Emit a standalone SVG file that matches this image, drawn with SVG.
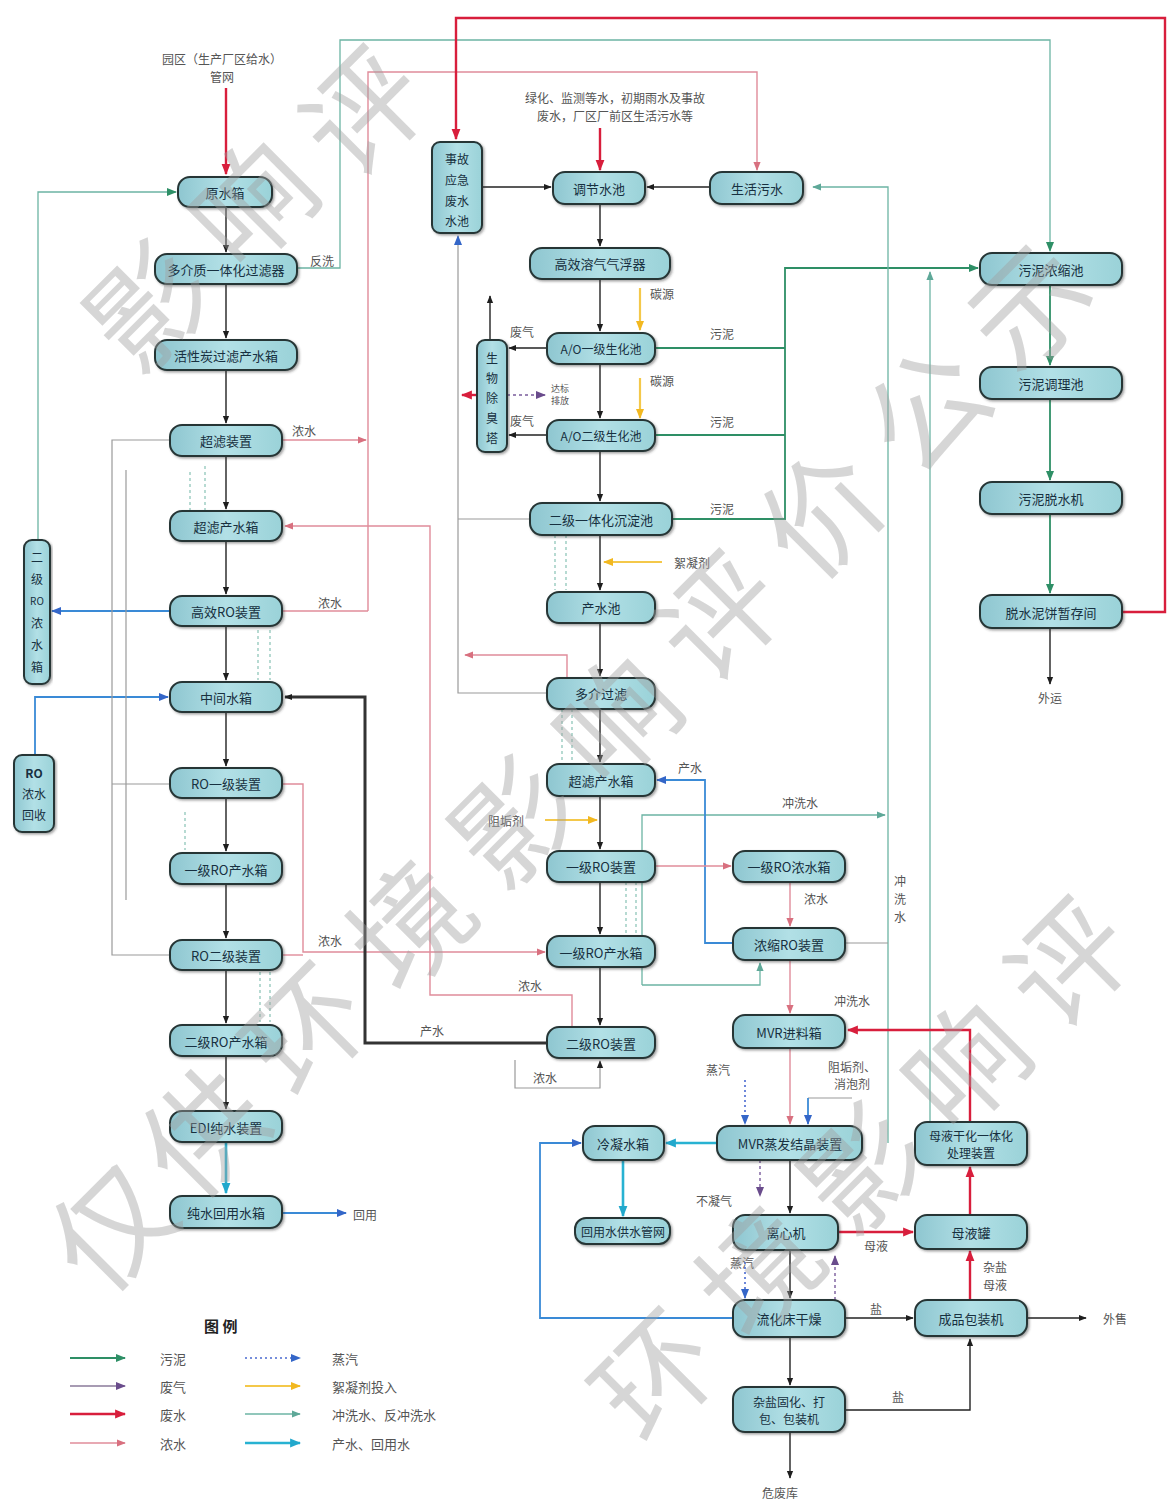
<svg xmlns="http://www.w3.org/2000/svg" width="1167" height="1500" viewBox="0 0 1167 1500">
<defs>
<linearGradient id="ng" x1="0" y1="0" x2="1" y2="0">
<stop offset="0" stop-color="#8ec6d0"/><stop offset="0.5" stop-color="#b2e0e6"/><stop offset="1" stop-color="#9ad2d8"/>
</linearGradient>
<filter id="sh" x="-10%" y="-20%" width="120%" height="150%"><feDropShadow dx="1.5" dy="1.5" stdDeviation="1" flood-color="#333" flood-opacity="0.45"/></filter>
<marker id="ak" viewBox="0 0 10 10" refX="9" refY="5" markerWidth="8" markerHeight="8" markerUnits="userSpaceOnUse" orient="auto"><path d="M0,1 L10,5 L0,9 z" fill="#1e1e1e"/></marker>
<marker id="ag" viewBox="0 0 10 10" refX="9" refY="5" markerWidth="10" markerHeight="10" markerUnits="userSpaceOnUse" orient="auto"><path d="M0,1 L10,5 L0,9 z" fill="#2e8f66"/></marker>
<marker id="ar" viewBox="0 0 10 10" refX="9" refY="5" markerWidth="11" markerHeight="11" markerUnits="userSpaceOnUse" orient="auto"><path d="M0,1 L10,5 L0,9 z" fill="#d81e3c"/></marker>
<marker id="ap" viewBox="0 0 10 10" refX="9" refY="5" markerWidth="9" markerHeight="9" markerUnits="userSpaceOnUse" orient="auto"><path d="M0,1 L10,5 L0,9 z" fill="#d8707f"/></marker>
<marker id="au" viewBox="0 0 10 10" refX="9" refY="5" markerWidth="10" markerHeight="10" markerUnits="userSpaceOnUse" orient="auto"><path d="M0,1 L10,5 L0,9 z" fill="#6a4c8c"/></marker>
<marker id="ab" viewBox="0 0 10 10" refX="9" refY="5" markerWidth="10" markerHeight="10" markerUnits="userSpaceOnUse" orient="auto"><path d="M0,1 L10,5 L0,9 z" fill="#3466c8"/></marker>
<marker id="ay" viewBox="0 0 10 10" refX="9" refY="5" markerWidth="10" markerHeight="10" markerUnits="userSpaceOnUse" orient="auto"><path d="M0,1 L10,5 L0,9 z" fill="#f2b820"/></marker>
<marker id="at" viewBox="0 0 10 10" refX="9" refY="5" markerWidth="9" markerHeight="9" markerUnits="userSpaceOnUse" orient="auto"><path d="M0,1 L10,5 L0,9 z" fill="#5ea898"/></marker>
<marker id="ac" viewBox="0 0 10 10" refX="9" refY="5" markerWidth="11" markerHeight="11" markerUnits="userSpaceOnUse" orient="auto"><path d="M0,1 L10,5 L0,9 z" fill="#22a8cc"/></marker>
<style>
.n rect{fill:url(#ng);stroke:#263636;stroke-width:2;filter:url(#sh)}
.t{font-family:"Noto Sans CJK SC","Noto Sans",sans-serif;font-size:13px;fill:#173040;text-anchor:middle;dominant-baseline:central}
.s{font-size:12px}
.lb{font-family:"Noto Sans CJK SC","Noto Sans",sans-serif;font-size:12px;fill:#555;text-anchor:middle;dominant-baseline:central}
.lg{font-family:"Noto Sans CJK SC","Noto Sans",sans-serif;font-size:13px;fill:#555;dominant-baseline:central}
.k{stroke:#222;stroke-width:1.4;fill:none}
.kk{stroke:#333;stroke-width:3;fill:none}
.g{stroke:#2e8f66;stroke-width:1.8;fill:none}
.r{stroke:#d81e3c;stroke-width:2.4;fill:none}
.p{stroke:#e08c9a;stroke-width:1.4;fill:none}
.u{stroke:#7a5c9c;stroke-width:1.4;fill:none;stroke-dasharray:3 3}
.b{stroke:#3a8ad6;stroke-width:1.8;fill:none}
.bd{stroke:#4a6ad0;stroke-width:1.6;fill:none;stroke-dasharray:2 3}
.y{stroke:#f4c84a;stroke-width:2.2;fill:none}
.tl{stroke:#6cb4a4;stroke-width:1.3;fill:none}
.td{stroke:#7cbcae;stroke-width:1.1;fill:none;stroke-dasharray:3 3}
.c{stroke:#28b2d2;stroke-width:2.6;fill:none}
.gr{stroke:#9a9a9a;stroke-width:1.2;fill:none}
.wm{font-family:"Noto Sans CJK SC","Noto Sans",sans-serif;font-size:118px;fill:#a0a0a0;opacity:0.42;text-anchor:middle;dominant-baseline:central}
</style>
</defs>
<rect width="1167" height="1500" fill="#ffffff"/>

<g id="top-labels">
<text class="lb" x="222" y="58">园区（生产厂区给水）</text>
<text class="lb" x="222" y="76">管网</text>
<text class="lb" x="615" y="97">绿化、监测等水，初期雨水及事故</text>
<text class="lb" x="615" y="115">废水，厂区厂前区生活污水等</text>
</g>

<g id="connectors">
<path class="r" d="M226,88 V174" marker-end="url(#ar)"/>
<path class="k" d="M226,207 V252" marker-end="url(#ak)"/>
<path class="k" d="M226,284 V338" marker-end="url(#ak)"/>
<path class="k" d="M226,370 V423" marker-end="url(#ak)"/>
<path class="k" d="M226,456 V509" marker-end="url(#ak)"/>
<path class="k" d="M226,541 V594" marker-end="url(#ak)"/>
<path class="k" d="M226,626 V680" marker-end="url(#ak)"/>
<path class="k" d="M226,712 V766" marker-end="url(#ak)"/>
<path class="k" d="M226,798 V851" marker-end="url(#ak)"/>
<path class="k" d="M226,884 V938" marker-end="url(#ak)"/>
<path class="k" d="M226,970 V1023" marker-end="url(#ak)"/>
<path class="k" d="M226,1056 V1109" marker-end="url(#ak)"/>
<path class="c" d="M226,1142 V1193" marker-end="url(#ac)"/>
<path class="b" d="M282,1213 H346" marker-end="url(#ab)"/>
<path class="tl" d="M38,540 V192 H176" marker-end="url(#ag)"/>
<path class="b" d="M170,611 H52" marker-end="url(#ab)"/>
<path class="b" d="M35,755 V697 H168" marker-end="url(#ab)"/>
<path class="gr" d="M170,440 H112 V955 H170 M112,784 H170"/>
<path class="gr" d="M126,470 V900"/>
<path class="td" d="M190,511 V470 M205,511 V466"/>
<path class="td" d="M258,630 V680 M270,630 V680"/>
<path class="td" d="M185,812 V850"/>
<path class="td" d="M260,972 V1022 M270,972 V1022"/>
<path class="tl" d="M297,268 H340 V40 H1050 V251" marker-end="url(#ag)"/>
<path class="p" d="M368,611 V72 H757 V170" marker-end="url(#ap)"/>
<path class="p" d="M282,440 H366" marker-end="url(#ap)"/>
<path class="p" d="M282,611 H368"/>
<path class="p" d="M572,1027 V995 H430 V526 H285" marker-end="url(#ap)"/>
<path class="p" d="M282,784 H303 V952 H545" marker-end="url(#ap)"/>
<path class="p" d="M282,955 H303"/>
<path class="p" d="M567,678 V655 H465" marker-end="url(#ap)"/>
<path class="kk" d="M547,1043 H365 V697 H285" marker-end="url(#ak)"/>
<path class="r" d="M1122,612 H1165 V18 H456 V139" marker-end="url(#ar)"/>
<path class="r" d="M600,128 V170" marker-end="url(#ar)"/>
<path class="k" d="M482,187 H551" marker-end="url(#ak)"/>
<path class="k" d="M710,187 H647" marker-end="url(#ak)"/>
<path class="k" d="M600,204 V246" marker-end="url(#ak)"/>
<path class="k" d="M600,279 V331" marker-end="url(#ak)"/>
<path class="k" d="M600,364 V418" marker-end="url(#ak)"/>
<path class="k" d="M600,451 V501" marker-end="url(#ak)"/>
<path class="k" d="M600,535 V590" marker-end="url(#ak)"/>
<path class="k" d="M600,623 V676" marker-end="url(#ak)"/>
<path class="k" d="M600,709 V762" marker-end="url(#ak)"/>
<path class="k" d="M600,796 V849" marker-end="url(#ak)"/>
<path class="k" d="M600,882 V934" marker-end="url(#ak)"/>
<path class="k" d="M600,967 V1025" marker-end="url(#ak)"/>
<path class="gr" d="M515,1060 V1088 H600 V1061" marker-end="url(#ak)"/>
<path class="td" d="M555,535 V590 M566,535 V590"/>
<path class="td" d="M562,709 V762 M572,709 V762"/>
<path class="td" d="M626,882 V934 M636,882 V934"/>
<path class="gr" d="M547,693 H458 V236" marker-end="url(#ab)"/>
<path class="gr" d="M530,519 H458"/>
<path class="k" d="M547,348 H509" marker-end="url(#ak)"/>
<path class="k" d="M547,435 H509" marker-end="url(#ak)"/>
<path class="k" d="M490,340 V296" marker-end="url(#ak)"/>
<path class="r" d="M477,395 H462" marker-end="url(#ar)"/>
<path class="u" d="M507,395 H545" marker-end="url(#au)"/>
<path class="y" d="M640,288 V330" marker-end="url(#ay)"/>
<path class="y" d="M640,378 V418" marker-end="url(#ay)"/>
<path class="y" d="M662,562 H604" marker-end="url(#ay)"/>
<path class="y" d="M545,820 H597" marker-end="url(#ay)"/>
<path class="g" d="M655,348 H785 M655,435 H785 M672,519 H785 V268 H978" marker-end="url(#ag)"/>
<path class="g" d="M1050,285 V365" marker-end="url(#ag)"/>
<path class="g" d="M1050,399 V480" marker-end="url(#ag)"/>
<path class="g" d="M1050,514 V593" marker-end="url(#ag)"/>
<path class="k" d="M1050,628 V684" marker-end="url(#ak)"/>
<path class="tl" d="M888,1143 V187 H813" marker-end="url(#at)"/>
<path class="tl" d="M930,1122 V272" marker-end="url(#at)"/>
<path class="tl" d="M642,985 V815 H885" marker-end="url(#at)"/>
<path class="tl" d="M642,985 H760 V963" marker-end="url(#at)"/>
<path class="gr" d="M845,943 H888"/>
<path class="b" d="M733,943 H705 V780 H657" marker-end="url(#ab)"/>
<path class="p" d="M655,866 H731" marker-end="url(#ap)"/>
<path class="p" d="M790,882 V926" marker-end="url(#ap)"/>
<path class="p" d="M790,960 V1013" marker-end="url(#ap)"/>
<path class="p" d="M790,1048 V1124" marker-end="url(#ap)"/>
<path class="r" d="M970,1122 V1030 H848" marker-end="url(#ar)"/>
<path class="bd" d="M745,1080 V1124" marker-end="url(#ab)"/>
<path class="gr" d="M852,1098 H808"/>
<path class="b" d="M808,1098 V1124" marker-end="url(#ab)"/>
<path class="c" d="M717,1143 H666" marker-end="url(#ac)"/>
<path class="c" d="M623,1160 V1216" marker-end="url(#ac)"/>
<path class="k" d="M790,1160 V1213" marker-end="url(#ak)"/>
<path class="u" d="M760,1160 V1196" marker-end="url(#au)"/>
<path class="r" d="M838,1232 H913" marker-end="url(#ar)"/>
<path class="r" d="M970,1215 V1167" marker-end="url(#ar)"/>
<path class="r" d="M970,1300 V1251" marker-end="url(#ar)"/>
<path class="k" d="M790,1250 V1298" marker-end="url(#ak)"/>
<path class="bd" d="M745,1262 V1298" marker-end="url(#ab)"/>
<path class="u" d="M835,1300 V1256" marker-end="url(#au)"/>
<path class="k" d="M845,1318 H913" marker-end="url(#ak)"/>
<path class="k" d="M1027,1318 H1086" marker-end="url(#ak)"/>
<path class="b" d="M733,1318 H540 V1143 H581" marker-end="url(#ab)"/>
<path class="k" d="M790,1337 V1385" marker-end="url(#ak)"/>
<path class="k" d="M790,1432 V1478" marker-end="url(#ak)"/>
<path class="k" d="M845,1410 H970 V1339" marker-end="url(#ak)"/>
</g>

<g id="connector-labels">
<text class="lb" x="322" y="260">反洗</text>
<text class="lb" x="304" y="430">浓水</text>
<text class="lb" x="330" y="602">浓水</text>
<text class="lb" x="330" y="940">浓水</text>
<text class="lb" x="365" y="1214">回用</text>
<text class="lb" x="432" y="1030">产水</text>
<text class="lb" x="530" y="985">浓水</text>
<text class="lb" x="545" y="1077">浓水</text>
<text class="lb" x="522" y="331">废气</text>
<text class="lb" x="522" y="420">废气</text>
<text class="lb" x="560" y="388" style="font-size:9px">达标</text>
<text class="lb" x="560" y="400" style="font-size:9px">排放</text>
<text class="lb" x="662" y="293">碳源</text>
<text class="lb" x="662" y="380">碳源</text>
<text class="lb" x="692" y="562">絮凝剂</text>
<text class="lb" x="506" y="820">阻垢剂</text>
<text class="lb" x="722" y="333">污泥</text>
<text class="lb" x="722" y="421">污泥</text>
<text class="lb" x="722" y="508">污泥</text>
<text class="lb" x="690" y="767">产水</text>
<text class="lb" x="800" y="802">冲洗水</text>
<text class="lb" x="900" y="880">冲</text>
<text class="lb" x="900" y="898">洗</text>
<text class="lb" x="900" y="916">水</text>
<text class="lb" x="816" y="898">浓水</text>
<text class="lb" x="852" y="1000">冲洗水</text>
<text class="lb" x="718" y="1069">蒸汽</text>
<text class="lb" x="852" y="1066">阻垢剂、</text>
<text class="lb" x="852" y="1083">消泡剂</text>
<text class="lb" x="714" y="1200">不凝气</text>
<text class="lb" x="742" y="1262">蒸汽</text>
<text class="lb" x="876" y="1245">母液</text>
<text class="lb" x="995" y="1266">杂盐</text>
<text class="lb" x="995" y="1284">母液</text>
<text class="lb" x="876" y="1308">盐</text>
<text class="lb" x="898" y="1396">盐</text>
<text class="lb" x="1115" y="1318">外售</text>
<text class="lb" x="780" y="1492">危废库</text>
<text class="lb" x="1050" y="697">外运</text>
</g>

<g id="L1" class="n"><rect x="178" y="177" width="94" height="30" rx="12"/><text class="t" x="225" y="192">原水箱</text></g>
<g id="L2" class="n"><rect x="155" y="254" width="142" height="30" rx="12"/><text class="t" x="226" y="269">多介质一体化过滤器</text></g>
<g id="L3" class="n"><rect x="155" y="340" width="142" height="30" rx="12"/><text class="t" x="226" y="355">活性炭过滤产水箱</text></g>
<g id="L4" class="n"><rect x="170" y="425" width="112" height="31" rx="12"/><text class="t" x="226" y="440">超滤装置</text></g>
<g id="L5" class="n"><rect x="170" y="511" width="112" height="30" rx="12"/><text class="t" x="226" y="526">超滤产水箱</text></g>
<g id="L6" class="n"><rect x="170" y="596" width="112" height="30" rx="12"/><text class="t" x="226" y="611">高效RO装置</text></g>
<g id="L7" class="n"><rect x="170" y="682" width="112" height="30" rx="12"/><text class="t" x="226" y="697">中间水箱</text></g>
<g id="L8" class="n"><rect x="170" y="768" width="112" height="30" rx="12"/><text class="t" x="226" y="783">RO一级装置</text></g>
<g id="L9" class="n"><rect x="170" y="853" width="112" height="31" rx="12"/><text class="t" x="226" y="869">一级RO产水箱</text></g>
<g id="L10" class="n"><rect x="170" y="940" width="112" height="30" rx="12"/><text class="t" x="226" y="955">RO二级装置</text></g>
<g id="L11" class="n"><rect x="170" y="1025" width="112" height="31" rx="12"/><text class="t" x="226" y="1041">二级RO产水箱</text></g>
<g id="L12" class="n"><rect x="170" y="1111" width="112" height="31" rx="12"/><text class="t" x="226" y="1127">EDI纯水装置</text></g>
<g id="L13" class="n"><rect x="170" y="1196" width="112" height="32" rx="12"/><text class="t" x="226" y="1212">纯水回用水箱</text></g>
<g id="V1" class="n"><rect x="24" y="540" width="26" height="144" rx="8"/>
<text class="t s" x="37" y="556">二</text><text class="t s" x="37" y="578">级</text><text class="t s" x="37" y="600" style="font-size:10px">RO</text><text class="t s" x="37" y="622">浓</text><text class="t s" x="37" y="644">水</text><text class="t s" x="37" y="666">箱</text></g>
<g id="V2" class="n"><rect x="14" y="755" width="40" height="77" rx="8"/>
<text class="t s" x="34" y="772" style="font-weight:bold">RO</text><text class="t s" x="34" y="793">浓水</text><text class="t s" x="34" y="814">回收</text></g>
<g id="VA" class="n"><rect x="432" y="142" width="50" height="91" rx="8"/>
<text class="t s" x="457" y="158">事故</text><text class="t s" x="457" y="179">应急</text><text class="t s" x="457" y="200">废水</text><text class="t s" x="457" y="220">水池</text></g>
<g id="VB" class="n"><rect x="477" y="340" width="30" height="112" rx="8"/>
<text class="t s" x="492" y="357">生</text><text class="t s" x="492" y="377">物</text><text class="t s" x="492" y="397">除</text><text class="t s" x="492" y="417">臭</text><text class="t s" x="492" y="437">塔</text></g>
<g id="M1" class="n"><rect x="553" y="172" width="92" height="32" rx="12"/><text class="t" x="599" y="188">调节水池</text></g>
<g id="M0" class="n"><rect x="710" y="172" width="93" height="32" rx="12"/><text class="t" x="757" y="188">生活污水</text></g>
<g id="M2" class="n"><rect x="530" y="248" width="140" height="31" rx="12"/><text class="t" x="600" y="263">高效溶气气浮器</text></g>
<g id="M3" class="n"><rect x="547" y="333" width="108" height="31" rx="12"/><text class="t s" x="601" y="348">A/O一级生化池</text></g>
<g id="M4" class="n"><rect x="547" y="420" width="108" height="31" rx="12"/><text class="t s" x="601" y="435">A/O二级生化池</text></g>
<g id="M5" class="n"><rect x="530" y="503" width="142" height="32" rx="12"/><text class="t" x="601" y="519">二级一体化沉淀池</text></g>
<g id="M6" class="n"><rect x="547" y="592" width="108" height="31" rx="12"/><text class="t" x="601" y="607">产水池</text></g>
<g id="M7" class="n"><rect x="547" y="678" width="108" height="31" rx="12"/><text class="t" x="601" y="693">多介过滤</text></g>
<g id="M8" class="n"><rect x="547" y="764" width="108" height="32" rx="12"/><text class="t" x="601" y="780">超滤产水箱</text></g>
<g id="M9" class="n"><rect x="547" y="851" width="108" height="31" rx="12"/><text class="t" x="601" y="866">一级RO装置</text></g>
<g id="M10" class="n"><rect x="733" y="851" width="112" height="31" rx="12"/><text class="t" x="789" y="866">一级RO浓水箱</text></g>
<g id="M11" class="n"><rect x="547" y="936" width="108" height="31" rx="12"/><text class="t" x="601" y="952">一级RO产水箱</text></g>
<g id="M12" class="n"><rect x="733" y="928" width="112" height="32" rx="12"/><text class="t" x="789" y="944">浓缩RO装置</text></g>
<g id="M13" class="n"><rect x="547" y="1027" width="108" height="31" rx="12"/><text class="t" x="601" y="1043">二级RO装置</text></g>
<g id="M14" class="n"><rect x="733" y="1015" width="112" height="33" rx="12"/><text class="t" x="789" y="1032">MVR进料箱</text></g>
<g id="M15" class="n"><rect x="717" y="1126" width="145" height="34" rx="12"/><text class="t" x="790" y="1143">MVR蒸发结晶装置</text></g>
<g id="N1" class="n"><rect x="583" y="1126" width="81" height="34" rx="12"/><text class="t" x="623" y="1143">冷凝水箱</text></g>
<g id="N2" class="n"><rect x="575" y="1218" width="95" height="26" rx="11"/><text class="t s" x="623" y="1231">回用水供水管网</text></g>
<g id="M16" class="n"><rect x="733" y="1215" width="105" height="35" rx="12"/><text class="t" x="786" y="1232">离心机</text></g>
<g id="P1" class="n"><rect x="915" y="1122" width="112" height="43" rx="12"/><text class="t s" x="971" y="1135">母液干化一体化</text><text class="t s" x="971" y="1152">处理装置</text></g>
<g id="P2" class="n"><rect x="915" y="1215" width="112" height="34" rx="12"/><text class="t" x="971" y="1232">母液罐</text></g>
<g id="M17" class="n"><rect x="733" y="1300" width="112" height="37" rx="12"/><text class="t" x="789" y="1318">流化床干燥</text></g>
<g id="P3" class="n"><rect x="915" y="1300" width="112" height="36" rx="12"/><text class="t" x="971" y="1318">成品包装机</text></g>
<g id="M18" class="n"><rect x="733" y="1387" width="112" height="45" rx="12"/><text class="t s" x="789" y="1401">杂盐固化、打</text><text class="t s" x="789" y="1418">包、包装机</text></g>
<g id="R1" class="n"><rect x="980" y="253" width="142" height="32" rx="12"/><text class="t" x="1051" y="269">污泥浓缩池</text></g>
<g id="R2" class="n"><rect x="980" y="367" width="142" height="32" rx="12"/><text class="t" x="1051" y="383">污泥调理池</text></g>
<g id="R3" class="n"><rect x="980" y="482" width="142" height="32" rx="12"/><text class="t" x="1051" y="498">污泥脱水机</text></g>
<g id="R4" class="n"><rect x="980" y="595" width="142" height="33" rx="12"/><text class="t" x="1051" y="612">脱水泥饼暂存间</text></g>

<g id="legend">
<text class="lg" x="204" y="1325" style="font-weight:bold;font-size:15px;fill:#222">图 例</text>
<path class="g" d="M70,1358 H125" marker-end="url(#ag)"/><text class="lg" x="160" y="1358">污泥</text>
<path stroke="#8a7a9a" stroke-width="1.4" fill="none" d="M70,1386 H125" marker-end="url(#au)"/><text class="lg" x="160" y="1386">废气</text>
<path class="r" d="M70,1414 H125" marker-end="url(#ar)"/><text class="lg" x="160" y="1414">废水</text>
<path class="p" d="M70,1443 H125" marker-end="url(#ap)"/><text class="lg" x="160" y="1443">浓水</text>
<path class="bd" d="M245,1358 H300" marker-end="url(#ab)"/><text class="lg" x="332" y="1358">蒸汽</text>
<path class="y" d="M245,1386 H300" marker-end="url(#ay)"/><text class="lg" x="332" y="1386">絮凝剂投入</text>
<path class="tl" d="M245,1414 H300" marker-end="url(#at)"/><text class="lg" x="332" y="1414">冲洗水、反冲洗水</text>
<path class="c" d="M245,1443 H300" marker-end="url(#ac)"/><text class="lg" x="332" y="1443">产水、回用水</text>
</g>

<g id="watermark">
<text class="wm" x="106" y="1222" transform="rotate(-45 106 1222)">仅</text>
<text class="wm" x="198" y="1127" transform="rotate(-45 198 1127)">供</text>
<text class="wm" x="301" y="1024" transform="rotate(-45 301 1024)">环</text>
<text class="wm" x="405" y="920" transform="rotate(-45 405 920)">境</text>
<text class="wm" x="508" y="817" transform="rotate(-45 508 817)">影</text>
<text class="wm" x="611" y="714" transform="rotate(-45 611 714)">响</text>
<text class="wm" x="714" y="611" transform="rotate(-45 714 611)">评</text>
<text class="wm" x="817" y="508" transform="rotate(-45 817 508)">价</text>
<text class="wm" x="921" y="404" transform="rotate(-45 921 404)">公</text>
<text class="wm" x="1024" y="301" transform="rotate(-45 1024 301)">示</text>
<text class="wm" x="143" y="301" transform="rotate(-45 143 301)">影</text>
<text class="wm" x="247" y="198" transform="rotate(-45 247 198)">响</text>
<text class="wm" x="358" y="106" transform="rotate(-45 358 106)">评</text>
<text class="wm" x="650" y="1370" transform="rotate(-45 650 1370)">环</text>
<text class="wm" x="754" y="1266" transform="rotate(-45 754 1266)">境</text>
<text class="wm" x="857" y="1163" transform="rotate(-45 857 1163)">影</text>
<text class="wm" x="960" y="1060" transform="rotate(-45 960 1060)">响</text>
<text class="wm" x="1063" y="957" transform="rotate(-45 1063 957)">评</text>
</g>
</svg>
